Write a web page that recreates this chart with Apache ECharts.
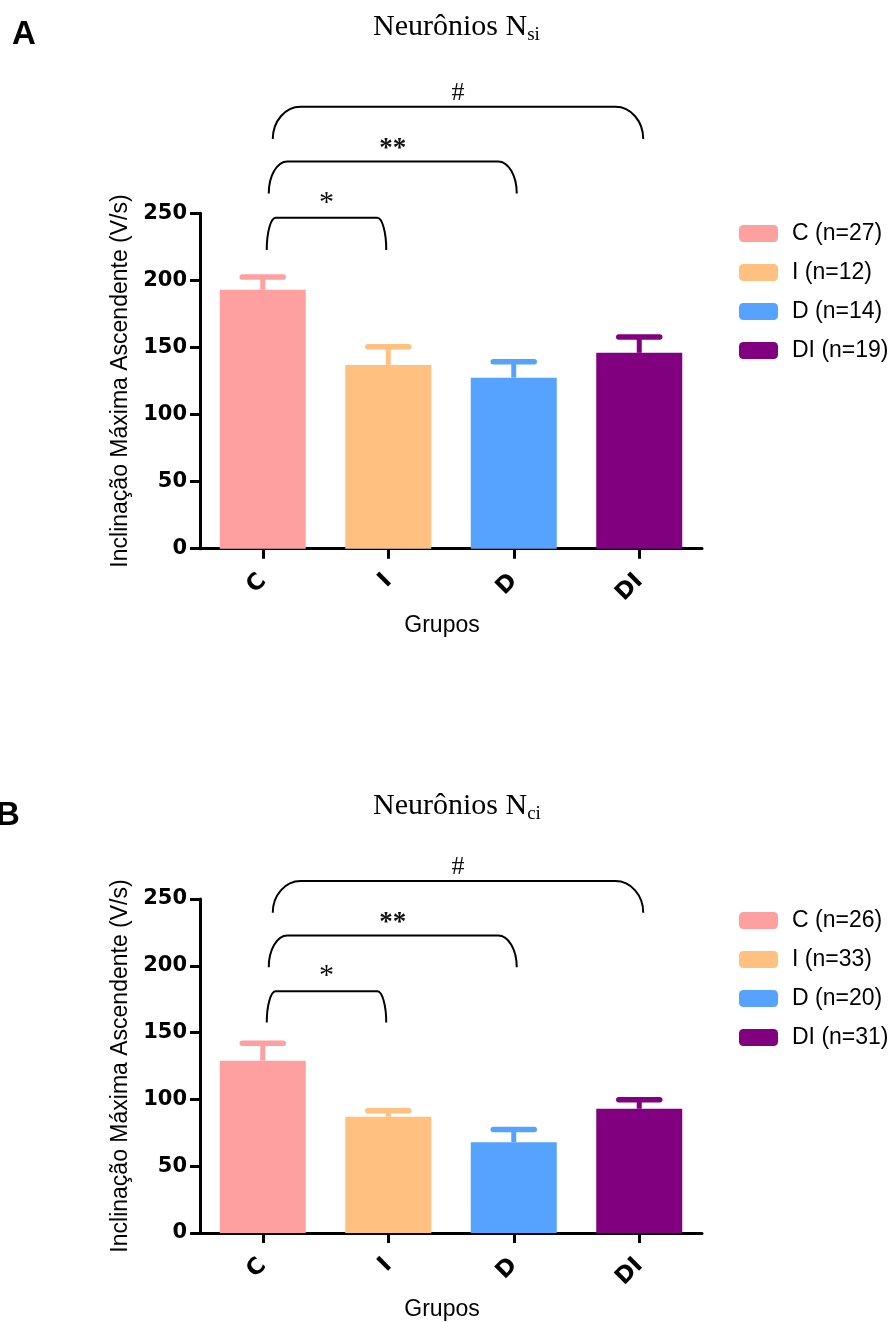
<!DOCTYPE html>
<html>
<head>
<meta charset="utf-8">
<script src="https://cdn.jsdelivr.net/npm/echarts@6/dist/echarts.min.js"></script>
<style>
  html, body { margin: 0; padding: 0; background: #fff; }
  #chart { width: 891px; height: 1322px; }
</style>
</head>
<body>
<div id="chart"></div>
<script>
// Groups and colours
const groups = ['C', 'I', 'D', 'DI'];
const groupColors = ['#FFA0A0', '#FFC080', '#56A2FF', '#800080'];

// Panel A – Neurônios N_si
const nSi = [27, 12, 14, 19];
const meanSi = [193, 137, 127.5, 146];
const semSi = [9.5, 13.5, 11.8, 11.8];
// comparisons: [from group, to group, bracket top, leg bottom, mark]
const bracketsSi = [
  [0, 1, 246.6, 222.6, '*'],
  [0, 2, 288.7, 264.8, '**'],
  [0, 3, 329.4, 305.3, '#']
];

// Panel B – Neurônios N_ci
const nCi = [26, 33, 20, 31];
const meanCi = [129, 87, 68, 93];
const semCi = [13, 4.5, 9.5, 6.7];
const bracketsCi = [
  [0, 1, 180.9, 157.6, '*'],
  [0, 2, 222.7, 198.9, '**'],
  [0, 3, 263.4, 239.8, '#']
];

// Value axis
const yMin = 0, yMax = 250, yStep = 50;
const yName = 'Inclinação Máxima Ascendente (V/s)';
const xName = 'Grupos';

const sans = 'Liberation Sans, Arial, sans-serif';
const boldSans = 'DejaVu Sans, sans-serif';
const serif = 'Liberation Serif, Times New Roman, serif';

// small horizontal nudges of the bracket ends (px)
const bracketNudgeL = [4, 6, 10];
const bracketNudgeR = [-2, 3, 4];
// mark styling: [font, gap above bracket]
const markStyle = {
  '*': ['30px ' + serif, 15],
  '**': ['bold 27px ' + serif, 12],
  '#': ['26px ' + serif, 14]
};

function legendNames(ns) {
  return groups.map((g, i) => g + ' (n=' + ns[i] + ')');
}

function barSeries(gi, means, ns) {
  const names = legendNames(ns);
  return groups.map((g, i) => ({
    type: 'bar',
    name: names[i],
    xAxisIndex: gi,
    yAxisIndex: gi,
    barWidth: 86,
    barGap: '-100%',
    itemStyle: { color: groupColors[i] },
    emphasis: { disabled: true },
    data: groups.map((_, j) => (j === i ? means[j] : '-')),
    z: 2
  }));
}

function errorSeries(gi, means, sems) {
  return {
    type: 'custom',
    xAxisIndex: gi,
    yAxisIndex: gi,
    z: 3,
    silent: true,
    encode: { x: 0, y: 1 },
    data: means.map((m, i) => [i, m, sems[i]]),
    renderItem: function (params, api) {
      const i = api.value(0);
      const base = api.coord([i, api.value(1)]);
      const top = api.coord([i, api.value(1) + api.value(2)]);
      const col = groupColors[params.dataIndex];
      return {
        type: 'group',
        children: [
          { type: 'line', shape: { x1: base[0], y1: base[1], x2: top[0], y2: top[1] },
            style: { stroke: col, lineWidth: 5 } },
          { type: 'line', shape: { x1: top[0] - 20.5, y1: top[1], x2: top[0] + 20.5, y2: top[1] },
            style: { stroke: col, lineWidth: 5.5, lineCap: 'round' } }
        ]
      };
    }
  };
}

function bracketSeries(gi, brackets) {
  return {
    type: 'custom',
    xAxisIndex: gi,
    yAxisIndex: gi,
    z: 4,
    silent: true,
    clip: false,
    encode: { x: 0, y: 2 },
    data: brackets.map(b => [b[0], b[1], b[2], b[3]]),
    renderItem: function (params, api) {
      const k = 0.5523;
      const idx = params.dataIndex;
      const x0 = api.coord([api.value(0), 0])[0] + bracketNudgeL[idx];
      const x1 = api.coord([api.value(1), 0])[0] + bracketNudgeR[idx];
      const yt = api.coord([0, api.value(2)])[1];
      const yb = api.coord([0, api.value(3)])[1];
      const h = yb - yt;
      const rx = (x1 - x0) * 0.075;
      const d = 'M' + x0 + ',' + yb +
        ' C' + x0 + ',' + (yb - k * h) + ' ' + (x0 + rx * (1 - k)) + ',' + yt + ' ' + (x0 + rx) + ',' + yt +
        ' L' + (x1 - rx) + ',' + yt +
        ' C' + (x1 - rx * (1 - k)) + ',' + yt + ' ' + x1 + ',' + (yb - k * h) + ' ' + x1 + ',' + yb;
      const mark = brackets[idx][4];
      const ms = markStyle[mark];
      return {
        type: 'group',
        children: [
          { type: 'path', shape: { pathData: d },
            style: { stroke: '#000', fill: null, lineWidth: 2 } },
          { type: 'text',
            style: {
              text: mark,
              x: (x0 + x1) / 2,
              y: yt - ms[1],
              align: 'center',
              verticalAlign: 'middle',
              fill: '#111',
              font: ms[0]
            } }
        ]
      };
    }
  };
}

function xAxisOf(gi) {
  return {
    type: 'category',
    gridIndex: gi,
    data: groups,
    boundaryGap: true,
    axisLine: { show: true, lineStyle: { color: '#000', width: 3 } },
    axisTick: { show: true, alignWithLabel: true, length: 10, lineStyle: { color: '#000', width: 3 } },
    axisLabel: { rotate: 45, margin: 29, color: '#000', fontFamily: boldSans, fontWeight: 'bold', fontSize: 23 },
    name: xName,
    nameLocation: 'middle',
    nameGap: 65,
    nameTextStyle: { fontFamily: sans, fontSize: 23, color: '#000', padding: [0, 18, 0, 0] },
    splitLine: { show: false }
  };
}

function yAxisOf(gi) {
  return {
    type: 'value',
    gridIndex: gi,
    min: yMin,
    max: yMax,
    interval: yStep,
    axisLine: { show: true, lineStyle: { color: '#000', width: 3 } },
    axisTick: { show: true, length: 10, lineStyle: { color: '#000', width: 3 } },
    axisLabel: { margin: 13, color: '#000', fontFamily: boldSans, fontWeight: 'bold', fontSize: 21 },
    splitLine: { show: false },
    name: yName,
    nameLocation: 'middle',
    nameGap: 58,
    nameTextStyle: { fontFamily: sans, fontSize: 23, color: '#000' }
  };
}

function legendOf(top, ns) {
  return {
    orient: 'vertical',
    left: 734,
    top: top,
    itemWidth: 39,
    itemHeight: 17,
    itemGap: 16,
    icon: 'roundRect',
    selectedMode: false,
    data: legendNames(ns),
    textStyle: { fontFamily: sans, fontSize: 23, color: '#000', padding: [0, 0, 0, 9] }
  };
}

function titleOf(top, sub) {
  return {
    text: '{a|Neurônios N}{b|' + sub + '}',
    left: 373,
    top: top,
    padding: 0,
    textStyle: {
      fontWeight: 'normal',
      rich: {
        a: { fontFamily: serif, fontSize: 30, fontWeight: 'normal', color: '#000', lineHeight: 36 },
        b: { fontFamily: serif, fontSize: 19, fontWeight: 'normal', color: '#000', lineHeight: 22, verticalAlign: 'bottom' }
      }
    }
  };
}

const option = {
  animation: false,
  backgroundColor: '#fff',
  title: [
    titleOf(9, 'si'),
    titleOf(788, 'ci'),
    { text: 'A', left: 12, top: 18, padding: 0,
      textStyle: { fontFamily: sans, fontWeight: 'bold', fontSize: 33, color: '#000' } },
    { text: 'B', left: -4, top: 799, padding: 0,
      textStyle: { fontFamily: sans, fontWeight: 'bold', fontSize: 33, color: '#000' } }
  ],
  legend: [legendOf(217, nSi), legendOf(904, nCi)],
  grid: [
    { left: 200, right: 189, top: 213.3, height: 335.4 },
    { left: 200, right: 189, top: 899, height: 336.3 }
  ],
  xAxis: [xAxisOf(0), xAxisOf(1)],
  yAxis: [yAxisOf(0), yAxisOf(1)],
  series: [].concat(
    barSeries(0, meanSi, nSi),
    [errorSeries(0, meanSi, semSi), bracketSeries(0, bracketsSi)],
    barSeries(1, meanCi, nCi),
    [errorSeries(1, meanCi, semCi), bracketSeries(1, bracketsCi)]
  )
};

const chart = echarts.init(document.getElementById('chart'), null, { renderer: 'canvas' });
chart.setOption(option);
</script>
</body>
</html>
